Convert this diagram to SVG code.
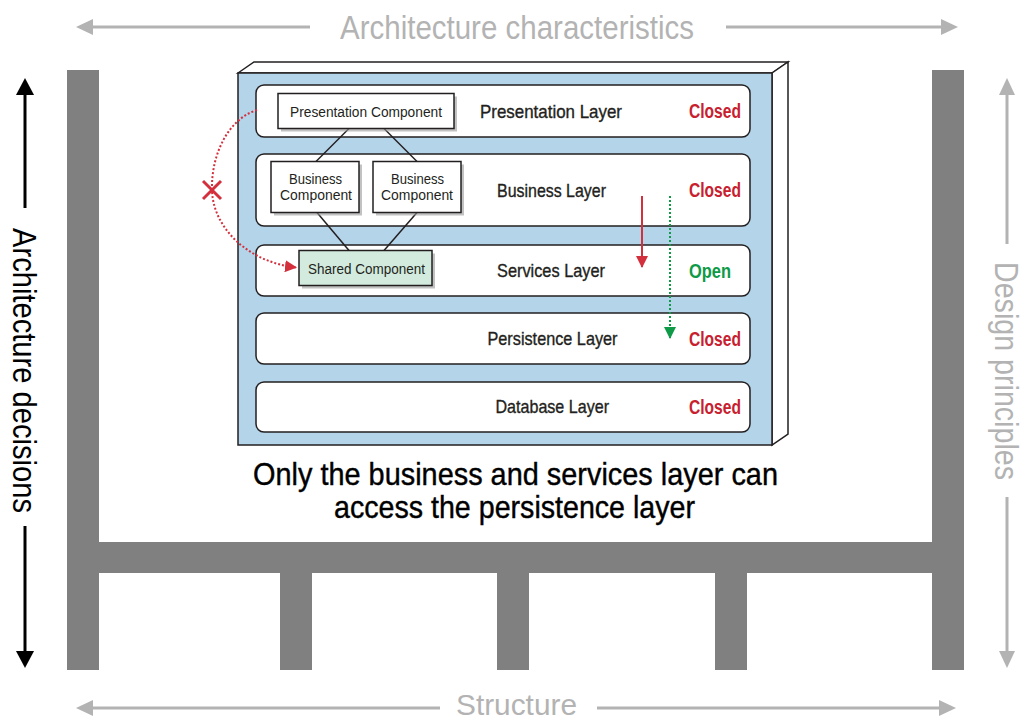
<svg xmlns="http://www.w3.org/2000/svg" width="1026" height="722" viewBox="0 0 1026 722">
  <style>
    text { font-family: "Liberation Sans", Arial, sans-serif; }
    .beam { fill: #808080; }
    .guide { stroke: #b3b3b3; stroke-width: 3; fill: none; }
    .guidehead { fill: #b3b3b3; }
    .guidetext { fill: #b3b3b3; font-size: 34px; }
    .black { stroke: #000; stroke-width: 3; fill: none; }
    .blackhead { fill: #000; }
    .blacktext { fill: #000; font-size: 34px; }
    .face { fill: #b3d4e9; stroke: #231f20; stroke-width: 1.5; }
    .white { fill: #fff; stroke: #231f20; stroke-width: 1.5; }
    .layer { fill: #fff; stroke: #231f20; stroke-width: 1.5; }
    .lname { fill: #231f20; font-size: 18.5px; stroke: #231f20; stroke-width: 0.35; }
    .closed { fill: #c8202f; font-size: 20px; font-weight: bold; }
    .open { fill: #0e9a47; font-size: 20px; font-weight: bold; }
    .comp { fill: #fff; stroke: #231f20; stroke-width: 1.5; }
    .shared { fill: #d2ebde; stroke: #231f20; stroke-width: 1.5; }
    .shadow { fill: #9a9a9a; opacity: 0.6; }
    .ctext { fill: #231f20; font-size: 15.5px; }
    .link { stroke: #231f20; stroke-width: 1.5; fill: none; }
    .redcurve { stroke: #d42f3c; stroke-width: 2; stroke-dasharray: 2 2; fill: none; }
    .redline { stroke: #d42f3c; stroke-width: 2; fill: none; }
    .greenline { stroke: #0e9a47; stroke-width: 2; stroke-dasharray: 2 2; fill: none; }
    .caption { fill: #000; font-size: 32px; stroke: #000; stroke-width: 0.4; }
  </style>
  <defs>
    <marker id="redHead" markerUnits="userSpaceOnUse" markerWidth="12" markerHeight="12" viewBox="0 0 12 12" refX="11" refY="6" orient="auto">
      <path d="M0,0 L12,6 L0,12 Z" fill="#d42f3c"/>
    </marker>
    <marker id="greenHead" markerUnits="userSpaceOnUse" markerWidth="12" markerHeight="12" viewBox="0 0 12 12" refX="11" refY="6" orient="auto">
      <path d="M0,0 L12,6 L0,12 Z" fill="#0e9a47"/>
    </marker>
  </defs>

  <rect width="1026" height="722" fill="#fff"/>

  <!-- Structure frame -->
  <g id="structure">
    <rect class="beam" x="67" y="70" width="32" height="600"/>
    <rect class="beam" x="932" y="70" width="32" height="600"/>
    <rect class="beam" x="99" y="542" width="833" height="31"/>
    <rect class="beam" x="280" y="573" width="32" height="97"/>
    <rect class="beam" x="497" y="573" width="32" height="97"/>
    <rect class="beam" x="715" y="573" width="32" height="97"/>
  </g>

  <!-- Guide arrows and labels -->
  <g id="guide-top">
    <line class="guide" x1="90" y1="27" x2="310" y2="27"/>
    <polygon class="guidehead" points="76,27 93,19 93,35"/>
    <line class="guide" x1="726" y1="27" x2="944" y2="27"/>
    <polygon class="guidehead" points="958,27 941,19 941,35"/>
    <text class="guidetext" x="340" y="39" textLength="354" lengthAdjust="spacingAndGlyphs">Architecture characteristics</text>
  </g>
  <g id="guide-bottom">
    <line class="guide" x1="90" y1="708" x2="440" y2="708"/>
    <polygon class="guidehead" points="76,708 93,700 93,716"/>
    <line class="guide" x1="597" y1="708" x2="942" y2="708"/>
    <polygon class="guidehead" points="956,708 939,700 939,716"/>
    <text class="guidetext" x="456" y="715" textLength="121" lengthAdjust="spacingAndGlyphs" style="font-size:30px">Structure</text>
  </g>
  <g id="guide-left">
    <line class="black" x1="25" y1="92" x2="25" y2="208"/>
    <polygon class="blackhead" points="25,78 16,95 34,95"/>
    <line class="black" x1="25" y1="526" x2="25" y2="654"/>
    <polygon class="blackhead" points="25,668 16,651 34,651"/>
    <text class="blacktext" transform="translate(13,228) rotate(90)" x="0" y="0" textLength="285" lengthAdjust="spacingAndGlyphs">Architecture decisions</text>
  </g>
  <g id="guide-right">
    <line class="guide" x1="1007" y1="92" x2="1007" y2="244"/>
    <polygon class="guidehead" points="1007,78 999,95 1015,95"/>
    <line class="guide" x1="1007" y1="497" x2="1007" y2="654"/>
    <polygon class="guidehead" points="1007,668 999,651 1015,651"/>
    <text class="guidetext" transform="translate(995,262) rotate(90)" x="0" y="0" textLength="218" lengthAdjust="spacingAndGlyphs">Design principles</text>
  </g>

  <!-- 3D box -->
  <g id="box">
    <polygon class="white" points="238,73 254,62 788,62 772,73"/>
    <polygon class="white" points="772,73 788,62 788,434 772,445"/>
    <rect class="face" x="238" y="73" width="534" height="372"/>
  </g>

  <!-- Layers -->
  <g id="layer-presentation">
    <rect class="layer" x="256" y="85" width="494" height="52" rx="8"/>
    <text class="lname" x="480" y="117.5" textLength="142" lengthAdjust="spacingAndGlyphs">Presentation Layer</text>
    <text class="closed" x="689" y="118" textLength="52" lengthAdjust="spacingAndGlyphs">Closed</text>
  </g>
  <g id="layer-business">
    <rect class="layer" x="256" y="154" width="494" height="72" rx="8"/>
    <text class="lname" x="497" y="196.5" textLength="109" lengthAdjust="spacingAndGlyphs">Business Layer</text>
    <text class="closed" x="689" y="197" textLength="52" lengthAdjust="spacingAndGlyphs">Closed</text>
  </g>
  <g id="layer-services">
    <rect class="layer" x="256" y="245" width="494" height="51" rx="8"/>
    <text class="lname" x="497" y="277" textLength="108" lengthAdjust="spacingAndGlyphs">Services Layer</text>
    <text class="open" x="689" y="277.5" textLength="42" lengthAdjust="spacingAndGlyphs">Open</text>
  </g>
  <g id="layer-persistence">
    <rect class="layer" x="256" y="313" width="494" height="51" rx="8"/>
    <text class="lname" x="487.5" y="345" textLength="130" lengthAdjust="spacingAndGlyphs">Persistence Layer</text>
    <text class="closed" x="689" y="345.5" textLength="52" lengthAdjust="spacingAndGlyphs">Closed</text>
  </g>
  <g id="layer-database">
    <rect class="layer" x="256" y="382" width="494" height="50" rx="8"/>
    <text class="lname" x="495.5" y="413" textLength="113.5" lengthAdjust="spacingAndGlyphs">Database Layer</text>
    <text class="closed" x="689" y="413.5" textLength="52" lengthAdjust="spacingAndGlyphs">Closed</text>
  </g>

  <!-- Connectors -->
  <g id="connectors">
    <line class="link" x1="349" y1="128.5" x2="316" y2="161.5"/>
    <line class="link" x1="384" y1="128.5" x2="417" y2="161.5"/>
    <line class="link" x1="317" y1="212.5" x2="349" y2="250.5"/>
    <line class="link" x1="417" y1="212.5" x2="384" y2="250.5"/>
    <path class="redcurve" d="M257,110 C228,119 211,155 212,190 C213,228 248,262 296,267.5" marker-end="url(#redHead)"/>
    <g id="blocked-mark" stroke="#d42f3c" stroke-width="3" stroke-linecap="butt">
      <line x1="203" y1="181" x2="221" y2="199"/>
      <line x1="221" y1="181" x2="203" y2="199"/>
    </g>
    <line class="redline" x1="642" y1="196" x2="642" y2="267" marker-end="url(#redHead)"/>
    <line class="greenline" x1="670" y1="196" x2="670" y2="338" marker-end="url(#greenHead)"/>
  </g>

  <!-- Components -->
  <g id="presentation-component">
    <rect class="shadow" x="281" y="96.5" width="176" height="35"/>
    <rect class="comp" x="278" y="93.5" width="176" height="35"/>
    <text class="ctext" x="290" y="116.5" textLength="152" lengthAdjust="spacingAndGlyphs">Presentation Component</text>
  </g>
  <g id="business-component-1">
    <rect class="shadow" x="274" y="164.5" width="88" height="51"/>
    <rect class="comp" x="271" y="161.5" width="88" height="51"/>
    <text class="ctext" x="289" y="184" textLength="53" lengthAdjust="spacingAndGlyphs">Business</text>
    <text class="ctext" x="280" y="200" textLength="72" lengthAdjust="spacingAndGlyphs">Component</text>
  </g>
  <g id="business-component-2">
    <rect class="shadow" x="376" y="164.5" width="88" height="51"/>
    <rect class="comp" x="373" y="161.5" width="88" height="51"/>
    <text class="ctext" x="391" y="184" textLength="53" lengthAdjust="spacingAndGlyphs">Business</text>
    <text class="ctext" x="381" y="200" textLength="72" lengthAdjust="spacingAndGlyphs">Component</text>
  </g>
  <g id="shared-component">
    <rect class="shadow" x="302" y="253.5" width="133" height="35"/>
    <rect class="shared" x="299" y="250.5" width="133" height="35"/>
    <text class="ctext" x="308" y="274" textLength="117" lengthAdjust="spacingAndGlyphs">Shared Component</text>
  </g>

  <!-- Caption -->
  <g id="caption">
    <text class="caption" x="253" y="485" textLength="525" lengthAdjust="spacingAndGlyphs">Only the business and services layer can</text>
    <text class="caption" x="334" y="518" textLength="361" lengthAdjust="spacingAndGlyphs">access the persistence layer</text>
  </g>
</svg>
